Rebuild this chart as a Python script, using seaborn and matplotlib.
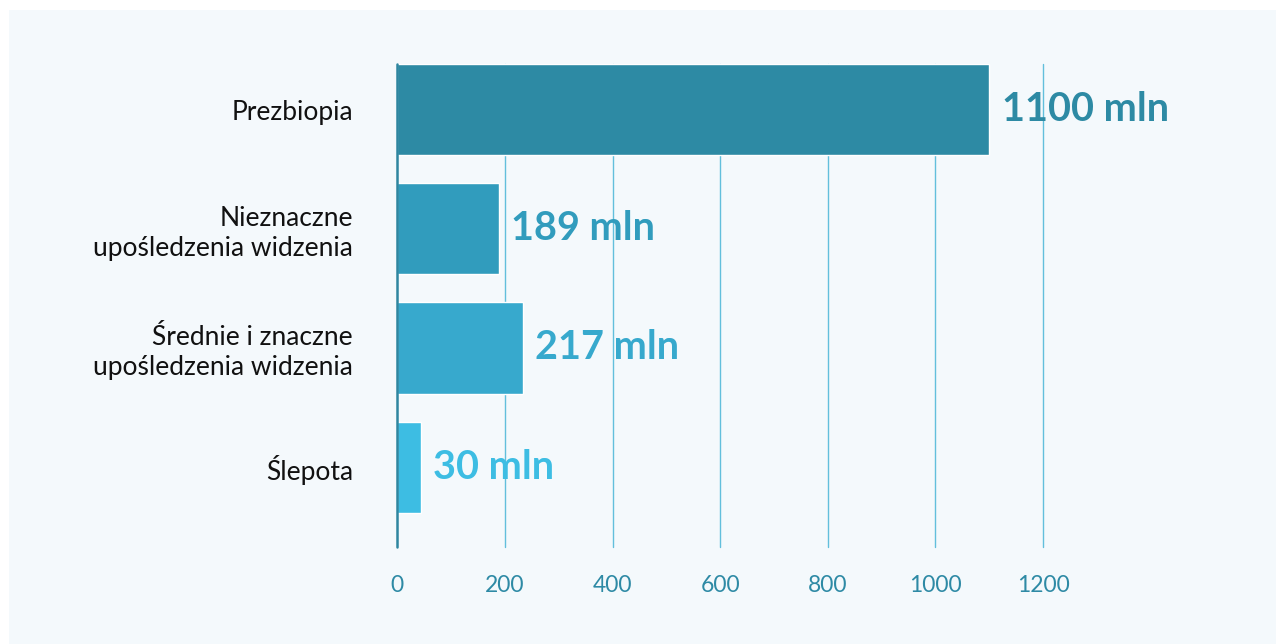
import matplotlib
matplotlib.use("Agg")
import matplotlib.pyplot as plt
import seaborn as sns
import pandas as pd
from matplotlib.patches import Rectangle

categories = ["Prezbiopia",
              "Nieznaczne\nupośledzenia widzenia",
              "Średnie i znaczne\nupośledzenia widzenia",
              "Ślepota"]
bar_values = [1100, 189, 233, 44]
value_labels = ["1100 mln", "189 mln", "217 mln", "30 mln"]
colors = ["#2d8aa4", "#319cbd", "#37a9cd", "#3dbde3"]
x_ticks = [0, 200, 400, 600, 800, 1000, 1200]

sns.set_theme(style="white")
plt.rcParams["font.family"] = ["Lato", "DejaVu Sans"]

df = pd.DataFrame({"cat": categories, "val": bar_values})

fig = plt.figure(figsize=(12.84, 6.44), dpi=100)
fig.patch.set_facecolor("white")
bg = Rectangle((9 / 1284, 0), (1276 - 9) / 1284, (644 - 10) / 644,
               transform=fig.transFigure, facecolor="#f4f9fc",
               edgecolor="none", zorder=-10)
fig.patches.append(bg)

ax = fig.add_axes([397.3 / 1284, 97 / 644, (1043 - 397.3) / 1284, (547 - 64) / 644])
ax.set_zorder(5)
ax.set_facecolor("none")

sns.barplot(data=df, y="cat", x="val", hue="cat", palette=colors, orient="h",
            width=0.765, legend=False, ax=ax, saturation=1, zorder=2)

ax.set_xlim(0, 1200)
ax.set_ylim(3.67, -0.382)
ax.set_xticks(x_ticks)
ax.set_xticklabels([str(t) for t in x_ticks])
ax.set_xlabel("")
ax.set_ylabel("")

for g in x_ticks[1:]:
    ax.axvline(g, color="#62bfdc", lw=1.0, zorder=1, clip_on=False)
ax.axvline(0, color="#2e86a0", lw=1.8, zorder=3, clip_on=False)

for s in ax.spines.values():
    s.set_visible(False)

ax.tick_params(axis="x", length=0, pad=20, labelsize=16.5, labelcolor="#2e8aa5")
ax.tick_params(axis="y", length=0, pad=32, labelsize=19, labelcolor="#111111")
for lab in ax.get_yticklabels():
    lab.set_linespacing(1.25)
    lab.set_ha("right")

for i, (v, lab, c) in enumerate(zip(bar_values, value_labels, colors)):
    ax.annotate(lab, xy=(v, i), xytext=(9, 0), textcoords="offset points",
                ha="left", va="center", fontsize=28.5, fontweight="bold",
                color=c, annotation_clip=False, zorder=4)

fig.savefig("out.png", dpi=100, facecolor=fig.get_facecolor())
